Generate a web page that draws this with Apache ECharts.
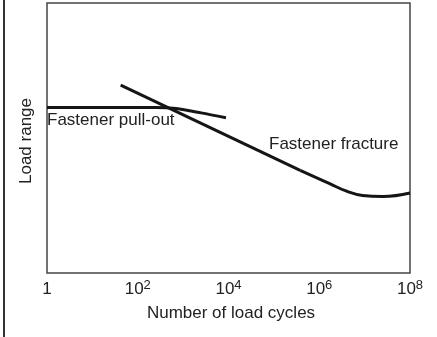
<!DOCTYPE html>
<html>
<head>
<meta charset="utf-8">
<script src="https://cdn.jsdelivr.net/npm/echarts@6/dist/echarts.min.js"></script>
<style>
html,body{margin:0;padding:0;background:#fff;}
#chart{width:437px;height:337px;}
</style>
</head>
<body>
<div id="chart"></div>
<script>
// ---- data ----
var xTickExponents = [0, 2, 4, 6, 8];
var pullOutCycles = [1, 250, 700, 2500, 8800];
var pullOutLoad   = [61.3, 61.3, 60.9, 59.3, 57.5];
var fractureStraightCycles = [42, 380000];
var fractureStraightLoad   = [69.6, 38.0];
var fractureTailCycles = [380000, 1700000, 4000000, 9000000, 25000000, 100000000];
var fractureTailLoad   = [38.0, 33.1, 30.3, 28.7, 28.3, 29.6];
var labels = {
  xName: 'Number of load cycles',
  yName: 'Load range',
  pullOut: 'Fastener pull-out',
  fracture: 'Fastener fracture'
};

function pairs(xs, ys) { return xs.map(function (x, i) { return [x, ys[i]]; }); }

var FONT = '"Liberation Sans", Arial, Helvetica, sans-serif';
var chart = echarts.init(document.getElementById('chart'), null, {renderer: 'canvas'});
chart.setOption({
  animation: false,
  backgroundColor: '#fff',
  grid: {left: 47, top: 3, right: 27, bottom: 64, show: true, borderColor: '#444', borderWidth: 1.5, backgroundColor: 'transparent'},
  xAxis: {
    type: 'log', logBase: 10, min: 1, max: 1e8, interval: 2,
    axisLine: {show: false}, axisTick: {show: false}, splitLine: {show: false},
    axisLabel: {
      margin: 6, color: '#222', fontFamily: FONT,
      formatter: function (v) {
        var e = Math.round(Math.log10(v));
        if (xTickExponents.indexOf(e) < 0) return '';
        if (e === 0) return '{b|1}';
        return '{b|10}{s|' + e + '}';
      },
      rich: {
        b: {fontSize: 17, fontFamily: FONT, color: '#222', padding: [2, 0, 0, 0], verticalAlign: 'bottom'},
        s: {fontSize: 13, fontFamily: FONT, color: '#222', verticalAlign: 'top'}
      }
    }
  },
  yAxis: {
    type: 'value', min: 0, max: 100,
    axisLine: {show: false}, axisTick: {show: false}, splitLine: {show: false}, axisLabel: {show: false}
  },
  series: [
    {type: 'line', data: pairs(pullOutCycles, pullOutLoad), showSymbol: false, smooth: 0.3,
     lineStyle: {color: '#151515', width: 3}},
    {type: 'line', data: pairs(fractureStraightCycles, fractureStraightLoad), showSymbol: false,
     lineStyle: {color: '#151515', width: 3}},
    {type: 'line', data: pairs(fractureTailCycles, fractureTailLoad), showSymbol: false, smooth: 0.45,
     lineStyle: {color: '#151515', width: 3}}
  ],
  graphic: [
    {type: 'line', shape: {x1: 4, y1: 0, x2: 4, y2: 337}, style: {stroke: '#333', lineWidth: 2}},
    {type: 'text', x: 231, y: 313, style: {text: labels.xName, font: '17px ' + FONT, fill: '#222', textAlign: 'center', textVerticalAlign: 'middle'}},
    {type: 'text', x: 26, y: 141, rotation: Math.PI / 2, style: {text: labels.yName, font: '17px ' + FONT, fill: '#222', textAlign: 'center', textVerticalAlign: 'middle'}},
    {type: 'text', x: 47, y: 120, style: {text: labels.pullOut, font: '17px ' + FONT, fill: '#222', textAlign: 'left', textVerticalAlign: 'middle'}},
    {type: 'text', x: 269, y: 144.5, style: {text: labels.fracture, font: '17px ' + FONT, fill: '#222', textAlign: 'left', textVerticalAlign: 'middle'}}
  ]
});
</script>
</body>
</html>
